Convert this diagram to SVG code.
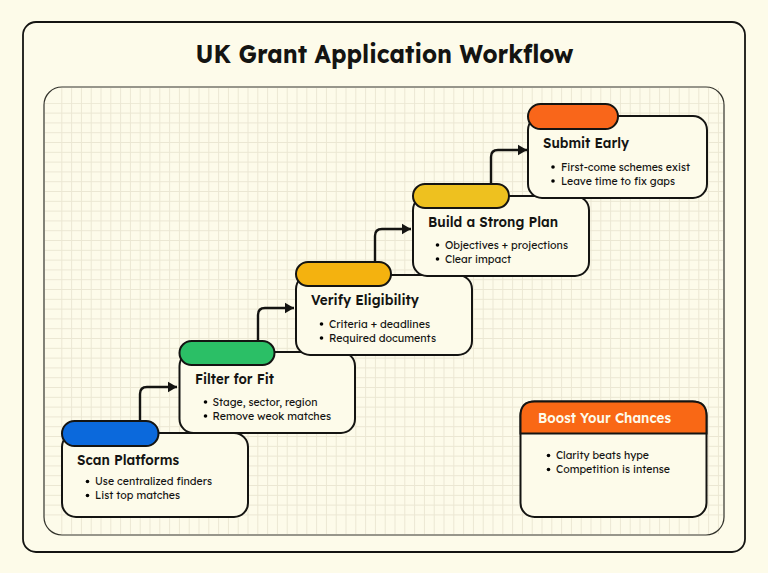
<svg xmlns="http://www.w3.org/2000/svg" width="768" height="573" viewBox="0 0 768 573">
<style>
text{font-family:"Lexend","Inter","Noto Sans",sans-serif;fill:#141412}
.t{font-size:14px;font-weight:600}
.b{font-size:10.8px;font-weight:400}
.box{fill:#fdfbea;stroke:#141412;stroke-width:2}
.tab{stroke:#141412;stroke-width:2}
.c{fill:none;stroke:#141412;stroke-width:2.4}
</style>
<defs>
<pattern id="gv" x="52.500" y="0" width="9.8" height="9.8" patternUnits="userSpaceOnUse">
<path d="M9.3 0V9.8" fill="none" stroke="#ebe7d3" stroke-width="1"/>
</pattern>
<pattern id="gh" x="0" y="94" width="9.8" height="9.8" patternUnits="userSpaceOnUse">
<path d="M0 9.3H9.8" fill="none" stroke="#ebe7d3" stroke-width="1"/>
</pattern>
<marker id="a" markerUnits="userSpaceOnUse" markerWidth="10" markerHeight="12" refX="9.500" refY="6" orient="auto"><path d="M0 0.500L9.500 6L0 11.500Z" fill="#141412"/></marker>
</defs>
<rect width="768" height="573" fill="#fdfbe9"/>
<rect x="23" y="22" width="722" height="530" rx="13" fill="#fdfbea" stroke="#141412" stroke-width="1.800"/>
<text x="384.500" y="63" text-anchor="middle" font-size="25" font-weight="700" textLength="378" lengthAdjust="spacingAndGlyphs">UK Grant Application Workflow</text>
<rect x="44" y="87" width="680" height="448" rx="18" fill="#fdfbea"/>
<rect x="61" y="88" width="662" height="446" fill="url(#gv)"/>
<rect x="45" y="103" width="678" height="421" fill="url(#gh)"/>
<rect x="44" y="87" width="680" height="448" rx="18" fill="none" stroke="#33332c" stroke-width="1.200"/>
<g id="connectors">
<path class="c" marker-end="url(#a)" d="M140 421V394Q140 387 147 387H177"/>
<path class="c" marker-end="url(#a)" d="M258 341V315Q258 308 265 308H294"/>
<path class="c" marker-end="url(#a)" d="M375 262V236Q375 229 382 229H411"/>
<path class="c" marker-end="url(#a)" d="M491 184V157Q491 150 498 150H527"/>
</g>
<g id="node-scan">
<rect class="box" x="62" y="433" width="186" height="84" rx="14"/>
<rect class="tab" x="62" y="421" width="96.500" height="25" rx="12.500" fill="#0b69dc"/>
<text class="t" x="77" y="465" textLength="102" lengthAdjust="spacingAndGlyphs">Scan Platforms</text>
<circle cx="87.500" cy="481.500" r="1.800"/><circle cx="87.500" cy="495.500" r="1.800"/>
<text class="b" x="95" y="485" textLength="117" lengthAdjust="spacingAndGlyphs">Use centralized finders</text>
<text class="b" x="95" y="499" textLength="85" lengthAdjust="spacingAndGlyphs">List top matches</text>
</g>
<g id="node-filter">
<rect class="box" x="179.500" y="352" width="175.500" height="81" rx="14"/>
<rect class="tab" x="179.500" y="341" width="95" height="24" rx="12" fill="#2bbf66"/>
<text class="t" x="195" y="384" textLength="79" lengthAdjust="spacingAndGlyphs">Filter for Fit</text>
<circle cx="205.500" cy="402" r="1.800"/><circle cx="205.500" cy="416" r="1.800"/>
<text class="b" x="212.500" y="406" textLength="105" lengthAdjust="spacingAndGlyphs">Stage, sector, region</text>
<text class="b" x="212.500" y="419.500" textLength="118.500" lengthAdjust="spacingAndGlyphs">Remove weok matches</text>
</g>
<g id="node-verify">
<rect class="box" x="296" y="275" width="176" height="80" rx="14"/>
<rect class="tab" x="296" y="262" width="95" height="24" rx="12" fill="#f4b20f"/>
<text class="t" x="311" y="305" textLength="108" lengthAdjust="spacingAndGlyphs">Verify Eligibility</text>
<circle cx="321.500" cy="324" r="1.800"/><circle cx="321.500" cy="338" r="1.800"/>
<text class="b" x="329" y="328" textLength="101" lengthAdjust="spacingAndGlyphs">Criteria + deadlines</text>
<text class="b" x="329" y="341.500" textLength="107" lengthAdjust="spacingAndGlyphs">Required documents</text>
</g>
<g id="node-plan">
<rect class="box" x="413" y="196" width="176" height="80" rx="14"/>
<rect class="tab" x="413" y="184" width="96" height="24" rx="12" fill="#eec11f"/>
<text class="t" x="428" y="227" textLength="130" lengthAdjust="spacingAndGlyphs">Build a Strong Plan</text>
<circle cx="437.500" cy="245" r="1.800"/><circle cx="437.500" cy="259" r="1.800"/>
<text class="b" x="445" y="249" textLength="123" lengthAdjust="spacingAndGlyphs">Objectives + projections</text>
<text class="b" x="445" y="263" textLength="66" lengthAdjust="spacingAndGlyphs">Clear impact</text>
</g>
<g id="node-submit">
<rect class="box" x="528" y="116" width="179" height="82" rx="14"/>
<rect class="tab" x="528" y="104" width="90" height="25" rx="12.500" fill="#f9661a"/>
<text class="t" x="543" y="148" textLength="86" lengthAdjust="spacingAndGlyphs">Submit Early</text>
<circle cx="553" cy="167" r="1.800"/><circle cx="553" cy="181" r="1.800"/>
<text class="b" x="561" y="171" textLength="129" lengthAdjust="spacingAndGlyphs">First-come schemes exist</text>
<text class="b" x="561" y="185" textLength="114" lengthAdjust="spacingAndGlyphs">Leave time to fix gaps</text>
</g>
<g id="callout">
<rect class="box" x="520.500" y="401.500" width="186" height="115.500" rx="14"/>
<path d="M520.500 433.500V415.500Q520.500 401.500 534.500 401.500H692.500Q706.500 401.500 706.500 415.500V433.500Z" fill="#f96815" stroke="#141412" stroke-width="2"/>
<text x="538" y="423" font-size="14" font-weight="600" style="fill:#fdfbea" textLength="133" lengthAdjust="spacingAndGlyphs">Boost Your Chances</text>
<circle cx="548.500" cy="455.500" r="1.800"/><circle cx="548.500" cy="469.500" r="1.800"/>
<text class="b" x="556" y="459" textLength="93" lengthAdjust="spacingAndGlyphs">Clarity beats hype</text>
<text class="b" x="556" y="473" textLength="114" lengthAdjust="spacingAndGlyphs">Competition is intense</text>
</g>
</svg>
